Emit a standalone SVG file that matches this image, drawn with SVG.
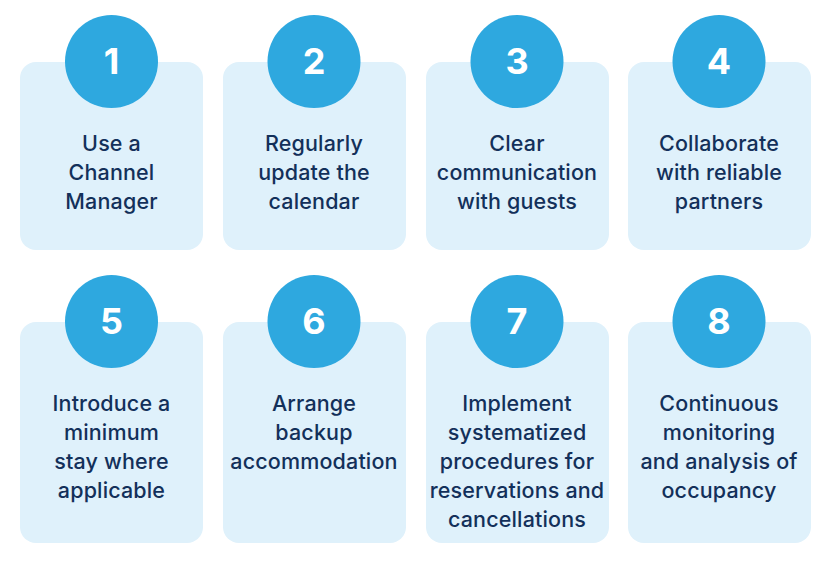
<svg xmlns="http://www.w3.org/2000/svg" width="830" height="565" viewBox="0 0 830 565">
<style>
.card{fill:#dff1fb}
.circ{fill:#2ea8df}
.num{font-family:Inter,"Noto Sans",sans-serif;font-weight:700;font-size:36px;fill:#fff;text-anchor:middle}
.t{font-family:Inter,"Noto Sans",sans-serif;font-weight:500;font-size:21.5px;letter-spacing:0.15px;fill:#13305a;text-anchor:middle}
</style>
<rect width="830" height="565" fill="#fff"/>
<g id="n1"><rect class="card" x="20" y="62" width="183" height="188" rx="16"/><circle class="circ" cx="111.5" cy="61.5" r="46.5"/><text class="num" x="111.5" y="74">1</text><text class="t" x="111.5" y="151">Use a</text><text class="t" x="111.5" y="180">Channel</text><text class="t" x="111.5" y="209">Manager</text></g>
<g id="n2"><rect class="card" x="223" y="62" width="183" height="188" rx="16"/><circle class="circ" cx="314" cy="61.5" r="46.5"/><text class="num" x="314" y="74">2</text><text class="t" x="314" y="151">Regularly</text><text class="t" x="314" y="180">update the</text><text class="t" x="314" y="209">calendar</text></g>
<g id="n3"><rect class="card" x="426" y="62" width="183" height="188" rx="16"/><circle class="circ" cx="517" cy="61.5" r="46.5"/><text class="num" x="517" y="74">3</text><text class="t" x="517" y="151">Clear</text><text class="t" x="517" y="180">communication</text><text class="t" x="517" y="209">with guests</text></g>
<g id="n4"><rect class="card" x="628" y="62" width="183" height="188" rx="16"/><circle class="circ" cx="719" cy="61.5" r="46.5"/><text class="num" x="719" y="74">4</text><text class="t" x="719" y="151">Collaborate</text><text class="t" x="719" y="180">with reliable</text><text class="t" x="719" y="209">partners</text></g>
<g id="n5"><rect class="card" x="20" y="322" width="183" height="221" rx="16"/><circle class="circ" cx="111.5" cy="321.5" r="46.5"/><text class="num" x="111.5" y="334">5</text><text class="t" x="111.5" y="411">Introduce a</text><text class="t" x="111.5" y="440">minimum</text><text class="t" x="111.5" y="469">stay where</text><text class="t" x="111.5" y="498">applicable</text></g>
<g id="n6"><rect class="card" x="223" y="322" width="183" height="221" rx="16"/><circle class="circ" cx="314" cy="321.5" r="46.5"/><text class="num" x="314" y="334">6</text><text class="t" x="314" y="411">Arrange</text><text class="t" x="314" y="440">backup</text><text class="t" x="314" y="469">accommodation</text></g>
<g id="n7"><rect class="card" x="426" y="322" width="183" height="221" rx="16"/><circle class="circ" cx="517" cy="321.5" r="46.5"/><text class="num" x="517" y="334">7</text><text class="t" x="517" y="411">Implement</text><text class="t" x="517" y="440">systematized</text><text class="t" x="517" y="469">procedures for</text><text class="t" x="517" y="498">reservations and</text><text class="t" x="517" y="527">cancellations</text></g>
<g id="n8"><rect class="card" x="628" y="322" width="183" height="221" rx="16"/><circle class="circ" cx="719" cy="321.5" r="46.5"/><text class="num" x="719" y="334">8</text><text class="t" x="719" y="411">Continuous</text><text class="t" x="719" y="440">monitoring</text><text class="t" x="719" y="469">and analysis of</text><text class="t" x="719" y="498">occupancy</text></g>
<g id="connectors"/>
</svg>
